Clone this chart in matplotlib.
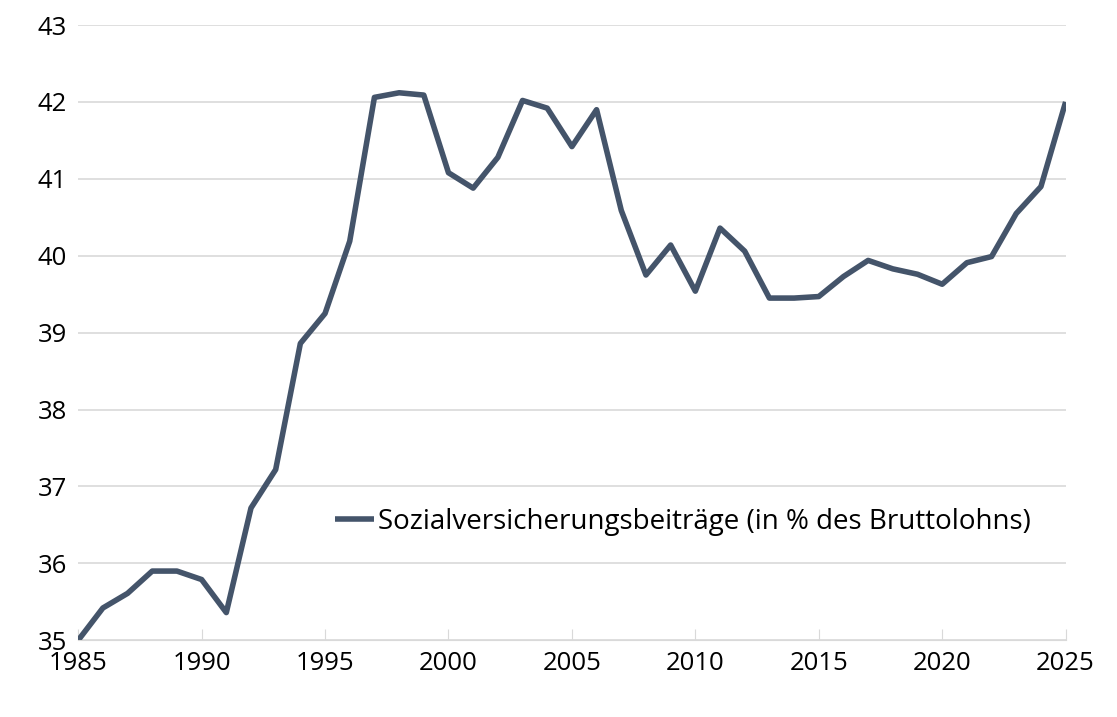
import matplotlib.pyplot as plt
from matplotlib.ticker import MultipleLocator

years = list(range(1985, 2026))
beitraege = [35.0, 35.42, 35.61, 35.9, 35.9, 35.79, 35.36, 36.72, 37.22, 38.86,
             39.25, 40.19, 42.06, 42.12, 42.09, 41.08, 40.88, 41.28, 42.02, 41.92,
             41.42, 41.9, 40.59, 39.75, 40.14, 39.54, 40.36, 40.06, 39.45, 39.45,
             39.47, 39.73, 39.94, 39.83, 39.76, 39.63, 39.91, 39.99, 40.55, 40.9,
             42.0]

plt.rcParams["font.family"] = "Open Sans"
fig = plt.figure(figsize=(11.17, 7.17), dpi=100)
ax = fig.add_axes([0.07, 0.107, 0.884, 0.858])
ax.plot(years, beitraege, color="#44546A", lw=4,
        label="Sozialversicherungsbeiträge (in % des Bruttolohns)", solid_capstyle="butt")
ax.set_xlim(1985, 2025)
ax.set_ylim(35, 43)
ax.xaxis.set_major_locator(MultipleLocator(5))
ax.yaxis.set_major_locator(MultipleLocator(1))
ax.grid(axis="y", color="#D9D9D9", lw=1.2)
ax.set_axisbelow(True)
for s in ["top", "right", "left"]:
    ax.spines[s].set_visible(False)
ax.spines["bottom"].set_color("#D9D9D9")
ax.tick_params(axis="both", length=0, labelsize=18.5, pad=8)
ax.tick_params(axis="x", length=8, color="#D9D9D9", direction="in")
ax.legend(loc="center left", bbox_to_anchor=(0.235, 0.193), frameon=False,
          fontsize=20, handlelength=1.4, handletextpad=0.15)
plt.savefig("out.png")
